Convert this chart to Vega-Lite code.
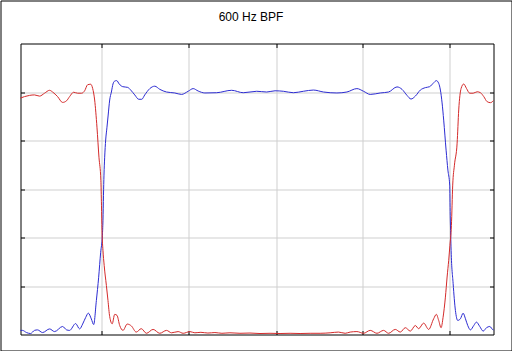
{
  "$schema": "https://vega.github.io/schema/vega-lite/v6.json",
  "width": 511,
  "height": 350,
  "padding": 0.5,
  "background": "white",
  "view": {"stroke": "black", "strokeWidth": 1, "fill": "white"},
  "title": {"text": "600 Hz BPF", "fontSize": 12, "fontWeight": "normal", "font": "Liberation Sans", "color": "black", "anchor": "middle", "frame": "group", "baseline": "middle", "offset": -28, "dx": -5},
  "datasets": {
    "pass": [
      {"x":0,"y":0.017},{"x":2,"y":0.017},{"x":6,"y":0.008},{"x":10,"y":0.004},{"x":14,"y":0.017},{"x":17,"y":0.019},{"x":22,"y":0.008},{"x":29,"y":0.023},{"x":34,"y":0.012},{"x":42,"y":0.033},{"x":46,"y":0.019},{"x":49,"y":0.017},{"x":55,"y":0.045},{"x":59,"y":0.023},{"x":62,"y":0.043},{"x":65,"y":0.070},{"x":67.7,"y":0.088},{"x":70.7,"y":0.064},{"x":73,"y":0.041},{"x":75.7,"y":0.140},{"x":78,"y":0.236},{"x":80,"y":0.339},{"x":81.7,"y":0.409},{"x":82.3,"y":0.471},{"x":82.8,"y":0.574},{"x":83.3,"y":0.657},{"x":84,"y":0.731},{"x":85,"y":0.802},{"x":86.3,"y":0.855},{"x":87.5,"y":0.905},{"x":89,"y":0.967},{"x":90.7,"y":1.000},{"x":92.3,"y":1.033},{"x":94,"y":1.045},{"x":96,"y":1.047},{"x":98.5,"y":1.033},{"x":102,"y":1.022},{"x":107,"y":1.019},{"x":110,"y":1.008},{"x":114,"y":0.988},{"x":118,"y":0.970},{"x":121,"y":0.970},{"x":124,"y":0.988},{"x":129,"y":1.014},{"x":134,"y":1.024},{"x":139,"y":1.011},{"x":145.7,"y":1.000},{"x":154,"y":0.996},{"x":160.7,"y":0.990},{"x":167.3,"y":1.003},{"x":172.3,"y":1.014},{"x":177.3,"y":1.004},{"x":184,"y":0.996},{"x":195.7,"y":0.997},{"x":210.7,"y":1.007},{"x":222.3,"y":0.997},{"x":235.7,"y":1.003},{"x":245.7,"y":1.000},{"x":254,"y":1.005},{"x":262.3,"y":1.003},{"x":272.3,"y":0.997},{"x":282.3,"y":1.003},{"x":292.3,"y":1.008},{"x":302.3,"y":1.000},{"x":315.7,"y":0.996},{"x":325.7,"y":1.000},{"x":335.7,"y":1.014},{"x":342.3,"y":1.003},{"x":349,"y":0.990},{"x":359,"y":0.996},{"x":367.3,"y":1.000},{"x":375.7,"y":1.021},{"x":380.7,"y":1.011},{"x":385.7,"y":0.986},{"x":389.7,"y":0.971},{"x":394,"y":0.983},{"x":399,"y":1.008},{"x":404,"y":1.018},{"x":408.3,"y":1.022},{"x":412.3,"y":1.038},{"x":415,"y":1.047},{"x":417.3,"y":1.036},{"x":419,"y":1.008},{"x":420.7,"y":0.955},{"x":422.3,"y":0.884},{"x":424.7,"y":0.760},{"x":426.5,"y":0.678},{"x":428.3,"y":0.616},{"x":428.8,"y":0.492},{"x":429.3,"y":0.409},{"x":429.7,"y":0.347},{"x":431.7,"y":0.211},{"x":434,"y":0.099},{"x":436.3,"y":0.058},{"x":439,"y":0.065},{"x":441.7,"y":0.088},{"x":444,"y":0.065},{"x":446.3,"y":0.037},{"x":449,"y":0.019},{"x":452.3,"y":0.037},{"x":455,"y":0.051},{"x":458.3,"y":0.033},{"x":461.7,"y":0.014},{"x":465,"y":0.028},{"x":468.3,"y":0.033},{"x":471.7,"y":0.019},{"x":472,"y":0.019}
    ],
    "stop": [
      {"x":0,"y":0.975},{"x":4,"y":0.981},{"x":9,"y":0.986},{"x":14,"y":0.988},{"x":19,"y":0.983},{"x":24,"y":0.995},{"x":29,"y":1.007},{"x":32,"y":1.000},{"x":37,"y":0.981},{"x":42,"y":0.957},{"x":46,"y":0.964},{"x":49,"y":0.981},{"x":53,"y":0.999},{"x":57,"y":0.995},{"x":61,"y":0.995},{"x":64,"y":1.005},{"x":67,"y":1.030},{"x":70,"y":1.032},{"x":72,"y":1.015},{"x":74,"y":0.967},{"x":76.3,"y":0.855},{"x":78.3,"y":0.731},{"x":80.2,"y":0.636},{"x":80.8,"y":0.533},{"x":81.3,"y":0.430},{"x":82.3,"y":0.347},{"x":83.5,"y":0.285},{"x":85.7,"y":0.202},{"x":87.3,"y":0.140},{"x":89,"y":0.074},{"x":91.5,"y":0.044},{"x":94,"y":0.083},{"x":96.3,"y":0.079},{"x":99,"y":0.037},{"x":102.3,"y":0.017},{"x":106.5,"y":0.043},{"x":110.7,"y":0.035},{"x":115.5,"y":0.010},{"x":120.5,"y":0.024},{"x":125.7,"y":0.005},{"x":132.3,"y":0.021},{"x":139,"y":0.005},{"x":145.7,"y":0.017},{"x":150.7,"y":0.007},{"x":157.3,"y":0.012},{"x":162.3,"y":0.005},{"x":169,"y":0.012},{"x":174,"y":0.007},{"x":180,"y":0.009},{"x":187,"y":0.006},{"x":194,"y":0.008},{"x":201,"y":0.005},{"x":209,"y":0.007},{"x":219,"y":0.005},{"x":229,"y":0.006},{"x":239,"y":0.004},{"x":249,"y":0.005},{"x":259,"y":0.004},{"x":269,"y":0.005},{"x":279,"y":0.004},{"x":289,"y":0.005},{"x":299,"y":0.005},{"x":309,"y":0.007},{"x":317.3,"y":0.010},{"x":324,"y":0.005},{"x":329,"y":0.010},{"x":335.7,"y":0.012},{"x":342.3,"y":0.005},{"x":349,"y":0.017},{"x":355.7,"y":0.005},{"x":362.3,"y":0.017},{"x":367.3,"y":0.005},{"x":374,"y":0.021},{"x":379,"y":0.010},{"x":384,"y":0.028},{"x":389,"y":0.014},{"x":394,"y":0.037},{"x":397.3,"y":0.024},{"x":402.3,"y":0.047},{"x":407.3,"y":0.021},{"x":412.3,"y":0.065},{"x":415,"y":0.083},{"x":417.3,"y":0.058},{"x":419.7,"y":0.028},{"x":421.7,"y":0.071},{"x":424,"y":0.154},{"x":425.7,"y":0.237},{"x":427.3,"y":0.306},{"x":428.5,"y":0.368},{"x":430,"y":0.450},{"x":431.3,"y":0.616},{"x":433,"y":0.698},{"x":435.7,"y":0.789},{"x":437.3,"y":0.926},{"x":439.7,"y":1.015},{"x":442.3,"y":1.033},{"x":445,"y":1.015},{"x":448.3,"y":0.995},{"x":451.7,"y":0.995},{"x":455.7,"y":1.001},{"x":459,"y":0.997},{"x":462.3,"y":0.981},{"x":465.7,"y":0.960},{"x":469,"y":0.956},{"x":472,"y":0.965}
    ]
  },
  "layer": [
    {
      "data": {"name": "pass"},
      "mark": {"type": "line", "color": "#2c2cd2", "strokeWidth": 1, "interpolate": "monotone"},
      "encoding": {
        "x": {"field": "x", "type": "quantitative",
              "scale": {"domain": [0, 472], "range": [20, 493], "nice": false, "zero": false},
              "axis": {"orient": "top", "offset": -43, "grid": true, "values": [81, 168, 255, 341, 428]}},
        "y": {"field": "y", "type": "quantitative",
              "scale": {"domain": [0, 1.2], "range": [334, 43], "nice": false, "zero": false},
              "axis": {"orient": "left", "offset": -20, "grid": true, "values": [0.2, 0.4, 0.6, 0.8, 1.0]}}
      }
    },
    {
      "data": {"name": "stop"},
      "mark": {"type": "line", "color": "#d42a2a", "strokeWidth": 1, "interpolate": "monotone"},
      "encoding": {
        "x": {"field": "x", "type": "quantitative",
              "axis": {"orient": "bottom", "offset": -16, "grid": false, "values": [81, 168, 255, 341, 428]}},
        "y": {"field": "y", "type": "quantitative",
              "axis": {"orient": "right", "offset": -18, "grid": false, "values": [0.2, 0.4, 0.6, 0.8, 1.0]}}
      }
    }
  ],
  "resolve": {"axis": {"x": "independent", "y": "independent"}},
  "config": {
    "view": {"stroke": "black", "strokeWidth": 1},
    "axis": {"labels": false, "title": null, "domainColor": "black", "domainWidth": 1, "tickColor": "black", "tickSize": -4, "tickWidth": 1, "gridColor": "#cfcfcf", "gridWidth": 1, "minExtent": 0, "maxExtent": 0}
  }
}
